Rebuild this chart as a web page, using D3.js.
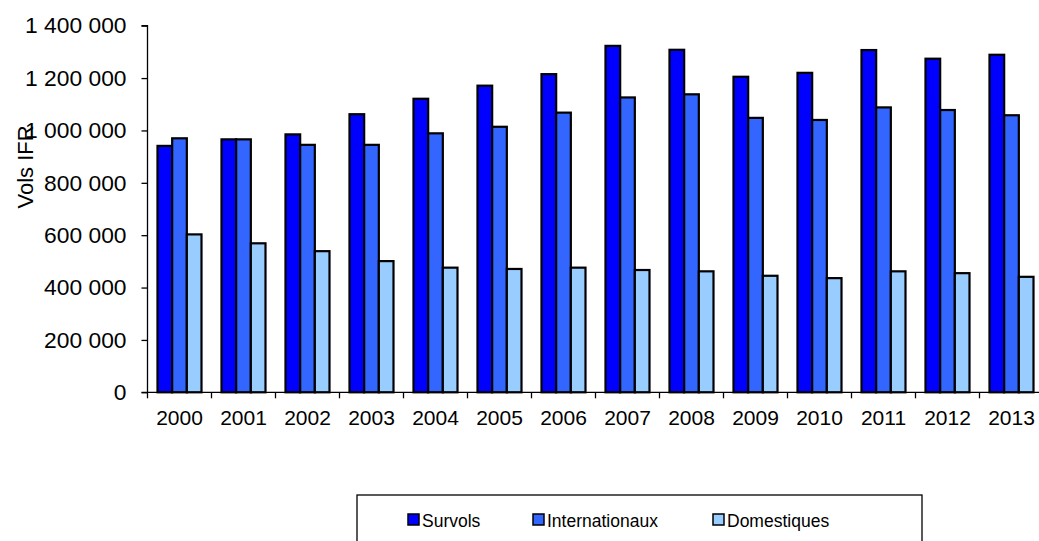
<!DOCTYPE html>
<html>
<head>
<meta charset="utf-8">
<script src="https://cdn.jsdelivr.net/npm/d3@7"></script>
<style>
  html, body { margin: 0; padding: 0; background: #fff; }
  svg { display: block; font-family: "Liberation Sans", Arial, sans-serif; }
</style>
</head>
<body>
<svg id="chart" width="1039" height="541"></svg>
<script>
const years = ["2000","2001","2002","2003","2004","2005","2006","2007","2008","2009","2010","2011","2012","2013"];
const survols = [941000, 966000, 985000, 1062000, 1121000, 1171000, 1215000, 1323000, 1308000, 1205000, 1220000, 1307000, 1274000, 1289000];
const internationaux = [970000, 966000, 945000, 945000, 989000, 1014000, 1068000, 1126000, 1138000, 1048000, 1040000, 1088000, 1078000, 1058000];
const domestiques = [603000, 569000, 539000, 501000, 476000, 471000, 476000, 467000, 462000, 445000, 436000, 462000, 455000, 441000];
const seriesNames = ["Survols", "Internationaux", "Domestiques"];
const seriesColors = ["#0000FF", "#3366FF", "#99CCFF"];
const yTicks = [0, 200000, 400000, 600000, 800000, 1000000, 1200000, 1400000];
const yLabel = "Vols IFR";

const seriesData = [survols, internationaux, domestiques];

const svg = d3.select("#chart");
const x0 = 147.5, x1 = 1043.5, yTop = 25.7, yBottom = 392.3;

const x = d3.scaleBand().domain(years).range([x0, x1]).paddingInner(0).paddingOuter(0);
const y = d3.scaleLinear().domain([0, 1400000]).range([yBottom, yTop]);
const groupInner = d3.scaleBand().domain(seriesNames).range([0, 44]);
const groupOffset = (x.bandwidth() - 44) / 2;

const fmt = v => d3.format(",")(v).replace(/,/g, " ");

// bars
const g = svg.append("g");
years.forEach((yr, i) => {
  seriesNames.forEach((s, j) => {
    const v = seriesData[j][i];
    g.append("rect")
      .attr("x", x(yr) + groupOffset + groupInner(s))
      .attr("y", y(v))
      .attr("width", groupInner.bandwidth())
      .attr("height", y(0) - y(v))
      .attr("fill", seriesColors[j])
      .attr("stroke", "#000")
      .attr("stroke-width", 2.2);
  });
});

// y axis
const yAxis = d3.axisLeft(y).tickValues(yTicks).tickFormat(fmt).tickSize(6).tickPadding(15);
const ya = svg.append("g").attr("transform", `translate(${x0},0)`).call(yAxis);
ya.select(".domain").attr("stroke", "#000").attr("stroke-width", 1.3).attr("d", `M-6,${yTop}H0V${yBottom}H-6`);
ya.selectAll(".tick line").attr("stroke", "#000").attr("stroke-width", 1.3);
ya.selectAll(".tick text").attr("font-size", 22.8).attr("fill", "#000").style("font-family", "Liberation Sans, Arial, sans-serif");

// x axis
const xAxis = d3.axisBottom(x).tickSize(0).tickPadding(20);
const xa = svg.append("g").attr("transform", `translate(0,${yBottom})`).call(xAxis);
xa.select(".domain").attr("stroke", "#000").attr("stroke-width", 1.3).attr("d", `M${x0},0H${x1}`);
xa.selectAll(".tick text").attr("font-size", 21).attr("fill", "#000").attr("dy", "0.71em").attr("y", 18)
  .style("font-family", "Liberation Sans, Arial, sans-serif");
// category separator ticks
xa.selectAll(".sep").data(years).enter().append("line")
  .attr("class", "sep")
  .attr("x1", d => x(d)).attr("x2", d => x(d))
  .attr("y1", 0).attr("y2", 6)
  .attr("stroke", "#000").attr("stroke-width", 1.3);

// y label
svg.append("text")
  .attr("transform", "translate(33,167) rotate(-90)")
  .attr("text-anchor", "middle")
  .attr("font-size", 22)
  .attr("fill", "#000")
  .text(yLabel);

// legend
const lg = svg.append("g");
lg.append("rect").attr("x", 357).attr("y", 495).attr("width", 565).attr("height", 60)
  .attr("fill", "#fff").attr("stroke", "#000").attr("stroke-width", 1.3);
const legendX = [408, 533, 713];
seriesNames.forEach((s, j) => {
  lg.append("rect").attr("x", legendX[j]).attr("y", 514).attr("width", 11).attr("height", 11)
    .attr("fill", seriesColors[j]).attr("stroke", "#000").attr("stroke-width", 1.5);
  lg.append("text").attr("x", legendX[j] + 14).attr("y", 526.5).attr("font-size", 17.5).attr("fill", "#000").text(s);
});
</script>
</body>
</html>
